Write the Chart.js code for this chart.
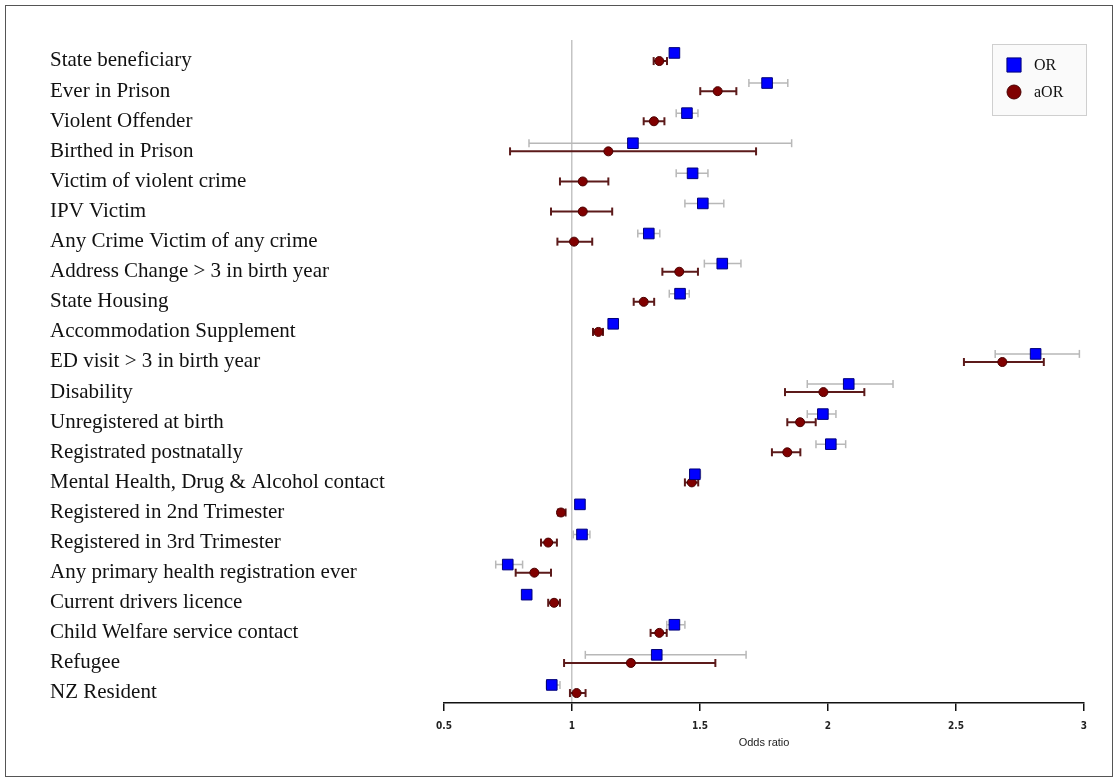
<!DOCTYPE html>
<html>
<head>
<meta charset="utf-8">
<title>Odds ratios</title>
<script src="https://cdn.jsdelivr.net/npm/chart.js@4.4.1/dist/chart.umd.min.js"></script>
<style>
  body { margin: 0; background: #fff; }
  #wrap { position: relative; width: 1115px; height: 779px; }
  #frame { position: absolute; left: 5px; top: 5px; width: 1106px; height: 770px;
           border: 1.5px solid #555; pointer-events: none; }
</style>
</head>
<body>
<div id="wrap">
  <canvas id="chart" width="1115" height="779"></canvas>
  <div id="frame"></div>
</div>
<script>
const labels = [
  "State beneficiary",
  "Ever in Prison",
  "Violent Offender",
  "Birthed in Prison",
  "Victim of violent crime",
  "IPV Victim",
  "Any Crime Victim of any crime",
  "Address Change > 3 in birth year",
  "State Housing",
  "Accommodation Supplement",
  "ED visit > 3 in birth year",
  "Disability",
  "Unregistered at birth",
  "Registrated postnatally",
  "Mental Health, Drug & Alcohol contact",
  "Registered in 2nd Trimester",
  "Registered in 3rd Trimester",
  "Any primary health registration ever",
  "Current drivers licence",
  "Child Welfare service contact",
  "Refugee",
  "NZ Resident"
];

// crude OR + 95% CI
const orVal  = [1.40, 1.762, 1.449, 1.238, 1.471, 1.511, 1.300, 1.587, 1.422, 1.161, 2.811, 2.081, 1.980, 2.011, 1.480, 1.031, 1.039, 0.749, 0.823, 1.400, 1.331, 0.921];
const orLow  = [1.39, 1.691, 1.407, 0.832, 1.407, 1.441, 1.257, 1.517, 1.380, 1.150, 2.653, 1.919, 1.919, 1.953, 1.460, 1.020, 1.005, 0.702, 0.815, 1.370, 1.052, 0.900];
const orHigh = [1.41, 1.843, 1.492, 1.858, 1.531, 1.593, 1.343, 1.660, 1.458, 1.170, 2.982, 2.254, 2.031, 2.069, 1.502, 1.040, 1.070, 0.807, 0.830, 1.441, 1.680, 0.953];

// adjusted OR + 95% CI
const aorVal  = [1.341, 1.569, 1.320, 1.142, 1.042, 1.042, 1.008, 1.419, 1.280, 1.103, 2.681, 1.982, 1.891, 1.841, 1.468, 0.957, 0.907, 0.853, 0.930, 1.341, 1.230, 1.018];
const aorLow  = [1.319, 1.501, 1.280, 0.758, 0.953, 0.918, 0.943, 1.353, 1.241, 1.082, 2.531, 1.832, 1.841, 1.781, 1.441, 0.945, 0.879, 0.780, 0.907, 1.307, 0.969, 0.992];
const aorHigh = [1.371, 1.642, 1.361, 1.719, 1.142, 1.157, 1.079, 1.492, 1.321, 1.121, 2.843, 2.142, 1.952, 1.892, 1.493, 0.975, 0.941, 0.918, 0.953, 1.370, 1.560, 1.053];

const xTicks = [0.5, 1, 1.5, 2, 2.5, 3];

const OR_SHIFT = -0.2;
const AOR_SHIFT = 0.07;

function points(vals, shift) {
  return vals.map((v, i) => ({ x: v, y: i + shift }));
}
function ciSegments(lo, hi, shift) {
  const out = [];
  lo.forEach((l, i) => {
    out.push({ x: l, y: i + shift }, { x: hi[i], y: i + shift }, { x: null, y: null });
  });
  return out;
}

const legendBox = {
  id: "legendBox",
  afterDraw(chart) {
    const ctx = chart.ctx;
    const x = 992, y = 44, w = 94, h = 71;
    ctx.save();
    ctx.fillStyle = "#fafafa";
    ctx.strokeStyle = "#cfcfcf";
    ctx.lineWidth = 1;
    ctx.fillRect(x, y, w, h);
    ctx.strokeRect(x + 0.5, y + 0.5, w, h);
    const items = [chart.data.datasets[0], chart.data.datasets[1]];
    const rows = [65, 92];
    items.forEach((ds, k) => {
      ctx.fillStyle = ds.backgroundColor;
      ctx.strokeStyle = ds.borderColor;
      ctx.lineWidth = 1;
      Chart.helpers.drawPoint(ctx, {
        pointStyle: ds.pointStyle,
        radius: k === 0 ? 10 : 7,
        rotation: 0,
        borderWidth: 1
      }, 1014, rows[k]);
      ctx.fillStyle = "#111";
      ctx.font = "16px 'Liberation Serif', serif";
      ctx.textBaseline = "middle";
      ctx.textAlign = "left";
      ctx.fillText(ds.label, 1034, rows[k] + 1);
    });
    ctx.restore();
  }
};

new Chart(document.getElementById("chart"), {
  type: "scatter",
  data: {
    datasets: [
      {
        label: "OR",
        data: points(orVal, OR_SHIFT),
        pointStyle: "rect",
        pointRadius: 7.5,
        backgroundColor: "#0000ff",
        borderColor: "#00007a",
        borderWidth: 1,
        order: 0
      },
      {
        label: "aOR",
        data: points(aorVal, AOR_SHIFT),
        pointStyle: "circle",
        pointRadius: 4.5,
        backgroundColor: "#800000",
        borderColor: "#4a0000",
        borderWidth: 1,
        order: 0
      },
      {
        label: "OR CI",
        data: ciSegments(orLow, orHigh, OR_SHIFT),
        showLine: true,
        spanGaps: false,
        borderColor: "#b8b8b8",
        borderWidth: 1.5,
        pointStyle: "line",
        pointRotation: 90,
        pointRadius: 4,
        pointBorderColor: "#b8b8b8",
        pointBorderWidth: 1.5,
        order: 1
      },
      {
        label: "aOR CI",
        data: ciSegments(aorLow, aorHigh, AOR_SHIFT),
        showLine: true,
        spanGaps: false,
        borderColor: "#5c1a1a",
        borderWidth: 2,
        pointStyle: "line",
        pointRotation: 90,
        pointRadius: 4,
        pointBorderColor: "#5c1a1a",
        pointBorderWidth: 2,
        order: 1
      }
    ]
  },
  options: {
    responsive: false,
    animation: false,
    layout: { padding: { left: 50, right: 31, top: 40, bottom: 0 } },
    plugins: {
      legend: { display: false },
      tooltip: { enabled: false }
    },
    scales: {
      x: {
        type: "linear",
        min: 0.5,
        max: 3,
        afterBuildTicks: s => { s.ticks = xTicks.map(v => ({ value: v })); },
        afterFit: s => { s.height = 76; },
        grid: {
          color: c => (c.tick && c.tick.value === 1 ? "#c4c4c4" : "rgba(0,0,0,0)"),
          lineWidth: 1.5,
          tickColor: "#111",
          tickLength: 8,
          tickWidth: 1.5
        },
        border: { display: true, color: "#111", width: 1.5 },
        ticks: {
          autoSkip: false,
          maxRotation: 0,
          padding: 9,
          color: "#222",
          font: { family: "'Liberation Sans Narrow', 'DejaVu Sans Condensed', sans-serif", size: 10, weight: "bold" },
          callback: v => String(v)
        },
        title: {
          display: true,
          text: "Odds ratio",
          color: "#222",
          padding: { top: 29, bottom: 29 },
          font: { family: "'Liberation Sans', sans-serif", size: 11 }
        }
      },
      y: {
        type: "linear",
        reverse: true,
        min: -0.63,
        max: 21.4,
        afterBuildTicks: s => { s.ticks = labels.map((_, i) => ({ value: i })); },
        afterFit: s => { s.width = 394; },
        grid: { display: false },
        border: { display: false },
        ticks: {
          autoSkip: false,
          crossAlign: "far",
          labelOffset: 2,
          color: "#111",
          font: { family: "'Liberation Serif', serif", size: 21 },
          callback: v => labels[v]
        }
      }
    }
  },
  plugins: [legendBox]
});
</script>
</body>
</html>
